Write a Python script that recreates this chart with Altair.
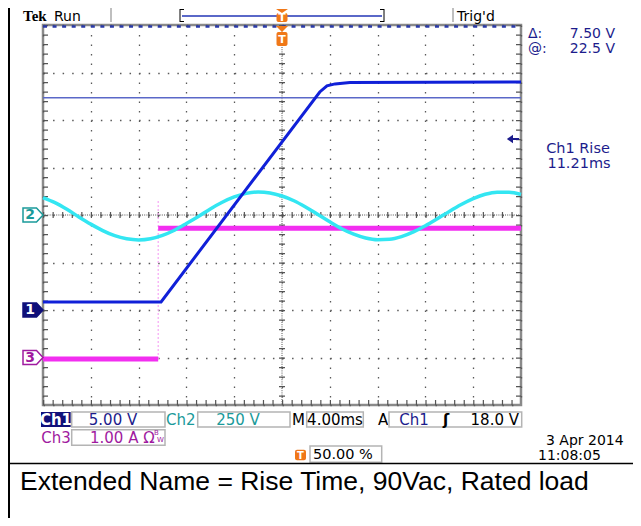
import altair as alt
import pandas as pd

# ---------------- data ----------------
# Ch1: output voltage (V), 5 V/div, ground marker at -2 div
t_ch1 = [-20.0, -10.12, 3.16, 3.76, 4.44, 5.68, 20.0]
v_ch1 = [0.85, 0.85, 22.95, 23.6, 23.8, 23.95, 24.0]

# Ch2: AC line voltage (V), 250 V/div, ground marker at 0 div
t_ch2 = [-20, -19, -18, -17, -16, -15, -14, -13, -12, -11, -10, -9, -8, -7,
         -6, -5, -4, -3, -2, -1, 0, 1, 2, 3, 4, 5, 6, 7, 8, 9, 10, 11, 12,
         13, 14, 15, 16, 17, 18, 19, 20]
v_ch2 = [92, 65, 30, -10, -48, -82, -109, -125, -131, -125, -107, -80, -45,
         -8, 32, 67, 95, 114, 121, 116, 100, 75, 41, 3, -36, -72, -101, -121,
         -130, -128, -114, -89, -57, -20, 19, 55, 86, 109, 120, 120, 108]

# Ch3: input current (A), 1 A/div, ground marker at -3 div
t_ch3 = [-20.0, -10.36, -10.36, 20.0]
i_ch3 = [-0.03, -0.03, 2.72, 2.72]
seg_ch3 = ["before", "before", "after", "after"]
spike_t = -10.36
spike_i = [-0.03, 3.32]

cursor_v = 22.35
trigger_level_v = 18.0

# scope settings
ms_per_div = 4.0
ch_scale = {"Ch1": 5.0, "Ch2": 250.0, "Ch3": 1.0}
ch_pos = {"Ch1": -2.0, "Ch2": 0.0, "Ch3": -3.0}

readouts = {
    "delta": "7.50 V", "at": "22.5 V", "rise_title": "Ch1 Rise", "rise": "11.21ms",
    "ch1": "5.00 V", "ch2": "250 V", "time": "4.00ms", "trig": "18.0 V",
    "ch3": "1.00 A Ω", "pos": "50.00 %", "date": "3 Apr 2014", "clock": "11:08:05",
    "caption": "Extended Name = Rise Time, 90Vac, Rated load",
}

# ---------------- convert to screen divisions ----------------
def tdiv(t):
    return [v / ms_per_div + 5 for v in t]

def ydiv(vals, ch):
    return [v / ch_scale[ch] + ch_pos[ch] for v in vals]

df1 = pd.DataFrame({"xd": tdiv(t_ch1), "yd": ydiv(v_ch1, "Ch1")})
df2 = pd.DataFrame({"xd": tdiv(t_ch2), "yd": ydiv(v_ch2, "Ch2")})
df3 = pd.DataFrame({"xd": tdiv(t_ch3), "yd": ydiv(i_ch3, "Ch3"), "seg": seg_ch3})
dspike = pd.DataFrame({"xd": tdiv([spike_t]), "yd": ydiv([spike_i[0]], "Ch3"),
                       "yd2": ydiv([spike_i[1]], "Ch3")})
dcur = pd.DataFrame({"yd": ydiv([cursor_v], "Ch1")})
dtrig = pd.DataFrame({"yd": ydiv([trigger_level_v], "Ch1")})
dmark = pd.DataFrame({"yd": [ch_pos["Ch1"], ch_pos["Ch2"], ch_pos["Ch3"]],
                      "lab": ["1", "2", "3"]})

W, H = 478, 380
xs = alt.Scale(domain=[0, 10], nice=False, zero=False)
ys = alt.Scale(domain=[-4, 4], nice=False, zero=False)
ax_x = alt.Axis(values=list(range(11)), grid=True, gridDash=[1.5, 8.0], gridColor="#5a5a5a",
                gridWidth=1.3, labels=False, ticks=False, domain=False, title=None)
ax_y = alt.Axis(values=list(range(-4, 5)), grid=True, gridDash=[1.5, 8.06], gridColor="#5a5a5a",
                gridWidth=1.3, labels=False, ticks=False, domain=False, title=None)
X = lambda f: alt.X(f, scale=xs, axis=ax_x)
Y = lambda f: alt.Y(f, scale=ys, axis=ax_y)

one = pd.DataFrame({"a": [0]})
UI = "DejaVu Sans"
NAVY = "#1c1c8c"
TEAL = "#1a9a9a"
PURPLE = "#a01aa0"
ORANGE = "#f07818"


def px(v):  # page x -> plot x
    return v - 43


def py(v):  # page y -> plot y
    return v - 25


def text(s, x, y, color="black", size=15, align="left", weight="normal", font=UI,
         baseline="middle"):
    return alt.Chart(one).mark_text(text=s, align=align, baseline=baseline, color=color,
                                    fontSize=size, fontWeight=weight, font=font).encode(
        x=alt.value(px(x)), y=alt.value(py(y)))


def box(x1, x2, y1, y2, fill=None, stroke="#b4b4b4", sw=1.5, radius=0):
    kw = dict(cornerRadius=radius)
    if fill is None:
        kw.update(fillOpacity=0, stroke=stroke, strokeWidth=sw)
    else:
        kw.update(color=fill)
    return alt.Chart(one).mark_rect(**kw).encode(
        x=alt.value(px(x1)), x2=alt.value(px(x2)), y=alt.value(py(y1)), y2=alt.value(py(y2)))


def hrule(x1, x2, y, color, w=1.0, dash=None):
    kw = dict(color=color, strokeWidth=w)
    if dash:
        kw["strokeDash"] = dash
    return alt.Chart(one).mark_rule(**kw).encode(
        x=alt.value(px(x1)), x2=alt.value(px(x2)), y=alt.value(py(y)))


def vrule(x, y1, y2, color, w=1.0, dash=None):
    kw = dict(color=color, strokeWidth=w)
    if dash:
        kw["strokeDash"] = dash
    return alt.Chart(one).mark_rule(**kw).encode(
        x=alt.value(px(x)), y=alt.value(py(y1)), y2=alt.value(py(y2)))


def tmarker(cx, tri_y, tri_h, by1, by2, w=11):
    tri = alt.Chart(one).mark_point(
        shape="M -1 -%f L 1 -%f L 0 %f Z" % (tri_h / 12, tri_h / 12, tri_h / 12),
        filled=True, color=ORANGE, size=144, opacity=1).encode(
        x=alt.value(px(cx)), y=alt.value(py(tri_y)))
    return [tri, box(cx - w / 2, cx + w / 2, by1, by2, fill=ORANGE, radius=2),
            text("T", cx, (by1 + by2) / 2 + 0.5, color="white", size=11, align="center",
                 weight="bold")]


layers = []

# graticule (axis grid) carrier
layers.append(alt.Chart(df1).mark_line(opacity=0).encode(x=X("xd:Q"), y=Y("yd:Q")))

# centre cross: dense dots plus minor ticks
cx_c, cy_c = 43 + W / 2, 25 + H / 2
layers += [
    hrule(43, 43 + W, cy_c, "#555", 1, [1, 1.2]),
    hrule(43, 43 + W, cy_c, "#555", 6, [1.2, 8.36]),
    vrule(cx_c, 25, 25 + H, "#555", 1, [1, 1.2]),
    vrule(cx_c, 25, 25 + H, "#555", 6, [1.2, 8.3]),
    # border minor ticks
    vrule(45.5, 25, 25 + H, "#555", 5, [1.2, 8.3]),
    vrule(43 + W - 2.5, 25, 25 + H, "#555", 5, [1.2, 8.3]),
    hrule(43, 43 + W, 25 + H - 2.5, "#555", 5, [1.2, 8.36]),
    hrule(43, 43 + W, 26.5, "#2a3aa8", 2.5, [4, 5.56]),
]

# traces
layers.append(alt.Chart(dspike).mark_rule(color="#f7a6f5", strokeWidth=1.2,
                                          strokeDash=[2, 2]).encode(
    x=X("xd:Q"), y=Y("yd:Q"), y2="yd2:Q"))
layers.append(alt.Chart(df3).mark_line(color="#f22ef0", strokeWidth=5).encode(
    x=X("xd:Q"), y=Y("yd:Q"), detail="seg:N"))
layers.append(alt.Chart(df2).mark_line(color="#33e6f2", strokeWidth=3.5,
                                       interpolate="monotone").encode(
    x=X("xd:Q"), y=Y("yd:Q")))
layers.append(alt.Chart(dcur).mark_rule(color="#5a68c8", strokeWidth=1.5).encode(
    y=Y("yd:Q"), x=alt.value(0), x2=alt.value(W)))
layers.append(alt.Chart(df1).mark_line(color="#1020d8", strokeWidth=3).encode(
    x=X("xd:Q"), y=Y("yd:Q")))

# trigger level arrow at right edge
layers.append(alt.Chart(dtrig).mark_point(
    shape="M -1 0 L 0 -0.7 L 0 -0.16 L 1 -0.16 L 1 0.16 L 0 0.16 L 0 0.7 Z",
    filled=True, color=NAVY, size=150, opacity=1).encode(
    y=Y("yd:Q"), x=alt.value(px(513))))

# channel ground markers (left side)
mshape = "M -1 -0.7 L 0.35 -0.7 L 1 0 L 0.35 0.7 L -1 0.7 Z"
mfill = alt.Chart(dmark).mark_point(shape=mshape, size=400, filled=True, opacity=1,
                                    strokeWidth=1.5).encode(
    y=Y("yd:Q"), x=alt.value(px(33)),
    fill=alt.Fill("lab:N", scale=alt.Scale(domain=["1", "2", "3"],
                                           range=["#10107a", "white", "white"]), legend=None),
    stroke=alt.Stroke("lab:N", scale=alt.Scale(domain=["1", "2", "3"],
                                               range=["#10107a", TEAL, PURPLE]), legend=None))
mtext = alt.Chart(dmark).mark_text(fontSize=14, fontWeight="bold", font=UI, dx=-3,
                                   baseline="middle").encode(
    y=Y("yd:Q"), x=alt.value(px(33)), text="lab:N",
    color=alt.Color("lab:N", scale=alt.Scale(domain=["1", "2", "3"],
                                             range=["white", TEAL, PURPLE]), legend=None))
layers += [mfill, mtext]

# header (kept below the page's 8 px margin)
layers += [
    text("Tek", 23, 21, size=15, weight="bold", font="Liberation Serif", baseline="alphabetic"),
    text("Run", 54, 21, size=14, baseline="alphabetic"),
    vrule(111, 8, 22, "#aaaaaa", 1.5),
    vrule(453, 8, 22, "#aaaaaa", 1.5),
    vrule(180, 9, 22, "black", 1), hrule(180, 184, 9.5, "black", 1), hrule(180, 184, 21.5, "black", 1),
    vrule(384, 9, 22, "black", 1), hrule(380, 384, 9.5, "black", 1), hrule(380, 384, 21.5, "black", 1),
    hrule(182, 382, 16, "#5a68c8", 2),
    text("Trig'd", 457, 21, size=14, baseline="alphabetic"),
]
layers += tmarker(282, 11, 4, 13, 22)
layers += tmarker(282, 29, 6, 32, 46)

# right readouts
layers += [
    text("Δ:", 528, 33.5, color=NAVY, size=14),
    text(readouts["delta"], 615, 33.5, color=NAVY, size=14, align="right"),
    text("@:", 528, 48.5, color=NAVY, size=14),
    text(readouts["at"], 615, 48.5, color=NAVY, size=14, align="right"),
    text(readouts["rise_title"], 578, 149, color=NAVY, size=14.5, align="center"),
    text(readouts["rise"], 579, 164, color=NAVY, size=14.5, align="center"),
]

# bottom status area
layers += [
    box(41, 70.7, 412, 427, fill="#10107a"),
    text("Ch1", 56, 420, color="white", size=15, align="center", weight="bold"),
    box(71.7, 165, 412, 427),
    text(readouts["ch1"], 113, 420, color=NAVY, size=15, align="center"),
    text("Ch2", 166, 420, color=TEAL, size=15),
    box(197.7, 290, 412, 427),
    text(readouts["ch2"], 238, 420, color=TEAL, size=15, align="center"),
    text("M", 292, 420, size=15),
    box(306.7, 363.3, 412, 427),
    text(readouts["time"], 335, 420, size=15, align="center"),
    text("A", 383, 420, size=15, align="center"),
    box(389, 521.7, 412, 427),
    text("Ch1", 414, 420, color=NAVY, size=15, align="center"),
    text("ʃ", 446, 420, size=15, align="center", weight="bold"),
    text(readouts["trig"], 519, 420, size=15, align="right"),
    text("Ch3", 56, 437.5, color=PURPLE, size=15, align="center"),
    box(71.7, 165, 429.7, 445.3),
    text(readouts["ch3"], 90, 437.5, color=PURPLE, size=15),
    text("B", 154, 433, color=PURPLE, size=7),
    text("W", 157, 440, color=PURPLE, size=7),
    box(295, 306, 449.7, 460.3, fill=ORANGE, radius=2),
    text("T", 300.5, 455.5, color="white", size=10, align="center", weight="bold"),
    box(310, 381.7, 446, 462.3),
    text(readouts["pos"], 313, 455, size=14.5),
    text(readouts["date"], 546, 441, size=14),
    text(readouts["clock"], 538, 456, size=14),
]

# outer frame and caption
layers += [
    vrule(9, 8, 526, "black", 2),
    hrule(8, 633, 463.5, "black", 1.5),
    text(readouts["caption"], 20, 490, size=26.5, font="Liberation Sans", baseline="alphabetic"),
]

chart = alt.layer(*layers).properties(
    width=W, height=H,
    padding={"left": 35, "top": 17, "right": 625 - 35 - W, "bottom": 510 - 17 - H},
    autosize=alt.AutoSizeParams(type="none"),
).configure_view(stroke="#8a8a8a", strokeWidth=2.5)

chart.save("out.html", embed_options={"renderer": "svg", "actions": False})
